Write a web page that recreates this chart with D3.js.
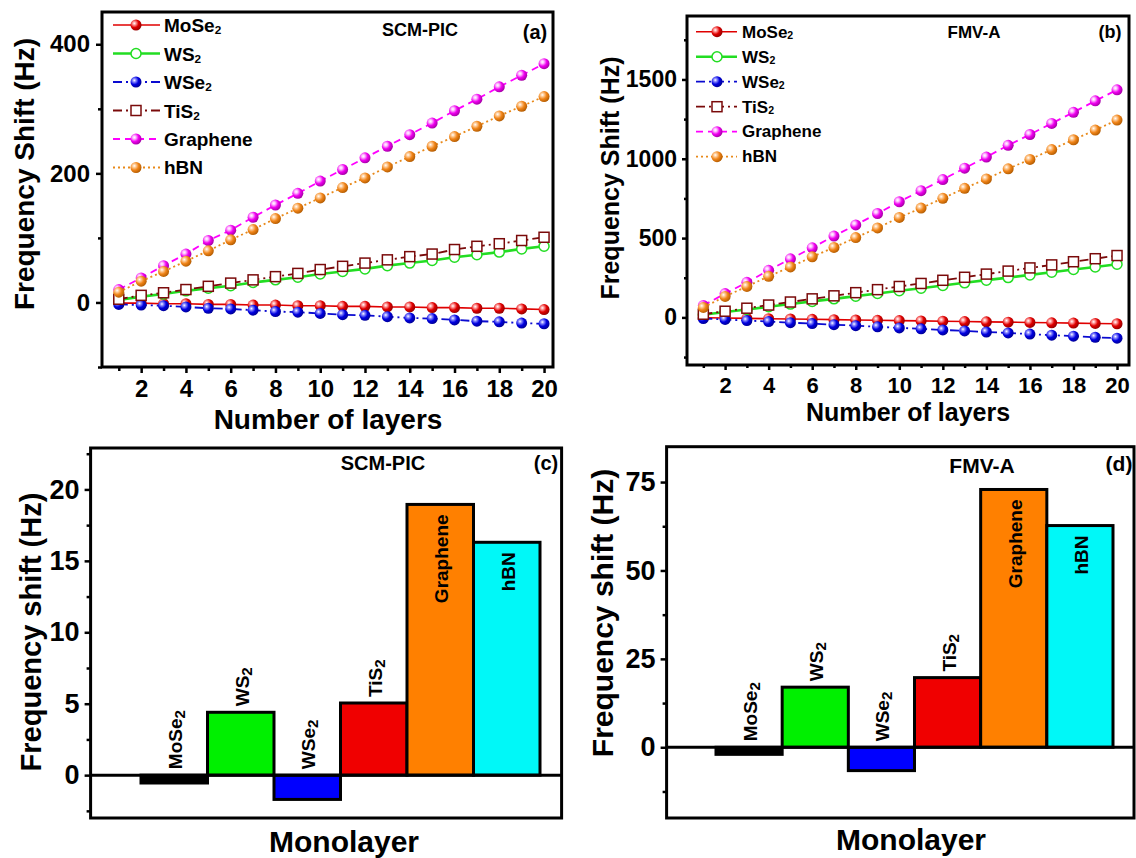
<!DOCTYPE html>
<html><head><meta charset="utf-8">
<script src="https://cdn.jsdelivr.net/npm/d3@7"></script>
<style>
body{margin:0;background:#fff;}
svg text{font-family:"Liberation Sans", Arial, sans-serif;font-weight:bold;fill:#000;}
</style></head><body>
<svg id="chart" width="1136" height="858"></svg>
<script>
// ---------------- DATA ----------------
const layers = [1,2,3,4,5,6,7,8,9,10,11,12,13,14,15,16,17,18,19,20];
const materials = ["MoSe2","WS2","WSe2","TiS2","Graphene","hBN"];

// (a) SCM-PIC, frequency shift (Hz) vs number of layers
const scmMoSe2    = [-1,-1,-2,-2,-3,-3,-4,-4,-5,-5,-6,-6,-7,-7,-8,-8,-9,-9,-10,-11];
const scmWS2      = [4,9,13,18,22,26,31,35,39,44,48,52,57,61,65,70,74,78,83,87];
const scmWSe2     = [-3,-4,-5,-7,-9,-10,-12,-14,-15,-17,-19,-20,-22,-24,-25,-27,-29,-30,-32,-33];
const scmTiS2     = [5,11,15,20,25,30,35,40,45,51,56,61,66,71,75,82,87,91,96,101];
const scmGraphene = [20,38,57,75,96,112,132,151,169,188,206,224,242,260,278,297,315,334,352,370];
const scmhBN      = [16,33,48,64,80,97,113,130,146,162,178,193,210,226,242,257,273,289,304,319];

// (b) FMV-A
const fmvMoSe2    = [-2,-4,-6,-8,-10,-12,-14,-16,-18,-20,-22,-24,-26,-28,-30,-32,-34,-36,-38,-40];
const fmvWS2      = [17,34,50,67,84,101,117,134,151,168,184,201,218,235,251,268,285,302,318,335];
const fmvWSe2     = [-7,-13,-20,-26,-33,-39,-46,-52,-59,-66,-72,-79,-85,-92,-98,-105,-112,-118,-125,-131];
const fmvTiS2     = [20,39,58,78,97,117,136,156,175,195,214,234,253,273,292,312,331,351,370,390];
const fmvGraphene = [75,150,221,297,369,439,513,583,655,729,799,869,941,1011,1085,1153,1223,1293,1365,1435];
const fmvhBN      = [63,132,195,259,318,382,441,503,564,630,689,751,814,873,937,996,1058,1120,1181,1244];

// (c),(d) monolayer frequency shift (Hz)
const scmMonolayer = [-0.55, 4.4, -1.7, 5.05, 18.95, 16.3];
const fmvMonolayer = [-2.0, 17.0, -6.6, 19.7, 72.9, 62.7];

// tick values
const layerTicks = [2,4,6,8,10,12,14,16,18,20];
const layerMinor = [1,3,5,7,9,11,13,15,17,19];
const aYTicks = [0,200,400];         const aYMinor = [-100,100,300];
const bYTicks = [0,500,1000,1500];   const bYMinor = [-250,250,750,1250,1750];
const cYTicks = [0,5,10,15,20];      const cYMinor = [-2.5,2.5,7.5,12.5,17.5,22.5];
const dYTicks = [0,25,50,75];        const dYMinor = [-12.5,12.5,37.5,62.5];

// ---------------- STYLES ----------------
const lineStyle = {
  MoSe2:    {color:"#e00000", dash:null,        marker:"ball",   width:1.6, base:"#e00000", light:"#ffa0a0", dark:"#900000"},
  WS2:      {color:"#22dd22", dash:null,        marker:"open",   width:2.6},
  WSe2:     {color:"#0a0ad0", dash:"9,4,2,4",   marker:"ball",   width:1.8, base:"#0000e0", light:"#9090ff", dark:"#000090"},
  TiS2:     {color:"#7a0a0a", dash:"9,4,2,4",   marker:"square", width:1.8},
  Graphene: {color:"#ff00ff", dash:"7,5",       marker:"ball",   width:1.8, base:"#f000f0", light:"#ffc0ff", dark:"#a000a0"},
  hBN:      {color:"#e8891a", dash:"2,3",       marker:"ball",   width:1.8, base:"#f08418", light:"#ffd0a0", dark:"#b05a00"}
};
const barColor = {MoSe2:"#000000", WS2:"#00f000", WSe2:"#0000ff", TiS2:"#f00000", Graphene:"#ff8000", hBN:"#00f8f8"};

const svg = d3.select("#chart");
const defs = svg.append("defs");
Object.entries(lineStyle).forEach(([k,s])=>{
  if(s.marker!=="ball") return;
  const gr = defs.append("radialGradient").attr("id","ball-"+k)
    .attr("cx","35%").attr("cy","35%").attr("r","70%");
  gr.append("stop").attr("offset","0%").attr("stop-color","#ffffff");
  gr.append("stop").attr("offset","20%").attr("stop-color",s.light);
  gr.append("stop").attr("offset","55%").attr("stop-color",s.base);
  gr.append("stop").attr("offset","100%").attr("stop-color",s.dark);
});

function labelWithSub(sel, name, subSize, subDy){
  const m = name.match(/^(.*?)(\d)$/);
  if(m){
    sel.append("tspan").text(m[1]);
    sel.append("tspan").text(m[2]).attr("font-size",subSize).attr("dy",subDy);
  } else sel.text(name);
}

function drawMarker(g, type, key, cx, cy, r){
  const s = lineStyle[key];
  if(type==="ball"){
    g.append("circle").attr("cx",cx).attr("cy",cy).attr("r",r).attr("fill","url(#ball-"+key+")");
  } else if(type==="open"){
    g.append("circle").attr("cx",cx).attr("cy",cy).attr("r",r-0.5).attr("fill","#fff").attr("stroke",s.color).attr("stroke-width",1.5);
  } else {
    g.append("rect").attr("x",cx-r+0.5).attr("y",cy-r+0.5).attr("width",2*r-1).attr("height",2*r-1)
      .attr("fill","#fff").attr("stroke",s.color).attr("stroke-width",1.5);
  }
}

function styleAxis(ax, fontSize){
  ax.attr("font-size",null).attr("font-family",null);
  ax.select(".domain").remove();
  ax.selectAll(".tick line").attr("stroke","#000").attr("stroke-width",2.5);
  ax.selectAll(".tick text").attr("font-size",fontSize).attr("fill","#000");
}

function rotatedTitle(text, cx, cy, size){
  svg.append("text").attr("transform",`translate(${cx},${cy}) rotate(-90)`)
    .attr("text-anchor","middle").attr("dominant-baseline","central")
    .attr("font-size",size).text(text);
}

// ---------------- LINE PANELS ----------------
function linePanel(cfg){
  const g = svg.append("g");
  const x = d3.scaleLinear().domain(cfg.xDomain).range([cfg.l, cfg.r]);
  const y = d3.scaleLinear().domain(cfg.yDomain).range([cfg.b, cfg.t]);

  const ya = g.append("g").attr("transform",`translate(${cfg.l},0)`)
    .call(d3.axisLeft(y).tickValues(cfg.yTicks).tickSize(cfg.tick).tickPadding(cfg.yPad).tickFormat(d3.format("d")));
  styleAxis(ya, cfg.tickFont);
  const ym = g.append("g").attr("transform",`translate(${cfg.l},0)`)
    .call(d3.axisLeft(y).tickValues(cfg.yMinor).tickSize(cfg.tick-2).tickFormat(""));
  styleAxis(ym, cfg.tickFont);
  const xa = g.append("g").attr("transform",`translate(0,${cfg.b})`)
    .call(d3.axisBottom(x).tickValues(layerTicks).tickSize(cfg.tick).tickPadding(cfg.xPad).tickFormat(d3.format("d")));
  styleAxis(xa, cfg.xTickFont);
  const xm = g.append("g").attr("transform",`translate(0,${cfg.b})`)
    .call(d3.axisBottom(x).tickValues(layerMinor).tickSize(cfg.tick-2).tickFormat(""));
  styleAxis(xm, cfg.xTickFont);

  const line = d3.line().x((d,i)=>x(layers[i])).y(d=>y(d));
  materials.forEach((m,i)=>{
    const s = lineStyle[m];
    const vals = cfg.series[i];
    g.append("path").attr("d",line(vals)).attr("fill","none")
      .attr("stroke",s.color).attr("stroke-width",s.width)
      .attr("stroke-dasharray",s.dash);
    const mg = g.append("g");
    vals.forEach((v,j)=>drawMarker(mg, s.marker, m, x(layers[j]), y(v), cfg.mr));
  });

  g.append("rect").attr("x",cfg.l).attr("y",cfg.t).attr("width",cfg.r-cfg.l).attr("height",cfg.b-cfg.t)
    .attr("fill","none").attr("stroke","#000").attr("stroke-width",3);

  // legend
  materials.forEach((m,i)=>{
    const s = lineStyle[m];
    const ly = cfg.leg.y + i*cfg.leg.dy;
    g.append("line").attr("x1",cfg.leg.x1).attr("x2",cfg.leg.x2).attr("y1",ly).attr("y2",ly)
      .attr("stroke",s.color).attr("stroke-width",s.width).attr("stroke-dasharray",s.dash);
    drawMarker(g, s.marker, m, cfg.leg.xm, ly, cfg.mr);
    const t = g.append("text").attr("x",cfg.leg.xt).attr("y",ly).attr("dominant-baseline","central")
      .attr("font-size",cfg.leg.font);
    labelWithSub(t, m, "0.62em", "0.35em");
  });

  svg.append("text").attr("x",cfg.note[0]).attr("y",cfg.note[1]).attr("text-anchor","middle")
    .attr("dominant-baseline","central").attr("font-size",cfg.note[2]).text(cfg.noteText);
  svg.append("text").attr("x",cfg.tag[0]).attr("y",cfg.tag[1]).attr("text-anchor","middle")
    .attr("dominant-baseline","central").attr("font-size",cfg.tag[2]).text(cfg.tagText);
  rotatedTitle("Frequency Shift (Hz)", cfg.yTitle[0], cfg.yTitle[1], cfg.yTitle[2]);
  svg.append("text").attr("x",cfg.xTitle[0]).attr("y",cfg.xTitle[1]).attr("text-anchor","middle")
    .attr("font-size",cfg.xTitle[2]).text("Number of layers");
}

linePanel({
  l:102, r:553, t:12, b:367, xDomain:[0.25,20.4], yDomain:[-100,450],
  yTicks:aYTicks, yMinor:aYMinor, tick:6, yPad:6, xPad:7, tickFont:24, xTickFont:24, mr:5.5,
  series:[scmMoSe2, scmWS2, scmWSe2, scmTiS2, scmGraphene, scmhBN],
  leg:{x1:113, x2:160, xm:136, xt:164, y:25, dy:28.5, font:19},
  note:[420,30,18], noteText:"SCM-PIC", tag:[535,32,20], tagText:"(a)",
  yTitle:[24,174,28], xTitle:[328,429,28]
});
linePanel({
  l:687, r:1129, t:16, b:365, xDomain:[0.25,20.55], yDomain:[-300,1900],
  yTicks:bYTicks, yMinor:bYMinor, tick:5, yPad:5, xPad:7, tickFont:23, xTickFont:22, mr:5.5,
  series:[fmvMoSe2, fmvWS2, fmvWSe2, fmvTiS2, fmvGraphene, fmvhBN],
  leg:{x1:696, x2:737, xm:717, xt:742, y:31.7, dy:25, font:17},
  note:[974,32,17], noteText:"FMV-A", tag:[1110,32,18], tagText:"(b)",
  yTitle:[610,178,25], xTitle:[908,421,25]
});

// ---------------- BAR PANELS ----------------
function barPanel(cfg){
  const g = svg.append("g");
  const x = d3.scaleBand().domain(materials).range(cfg.band).padding(0);
  const y = d3.scaleLinear().domain(cfg.yDomain).range([cfg.b, cfg.t]);

  const ya = g.append("g").attr("transform",`translate(${cfg.l},0)`)
    .call(d3.axisLeft(y).tickValues(cfg.yTicks).tickSize(6).tickPadding(5).tickFormat(d3.format("d")));
  styleAxis(ya, cfg.tickFont);
  const ym = g.append("g").attr("transform",`translate(${cfg.l},0)`)
    .call(d3.axisLeft(y).tickValues(cfg.yMinor).tickSize(4).tickFormat(""));
  styleAxis(ym, cfg.tickFont);

  const maxV = d3.max(cfg.values);
  materials.forEach((m,i)=>{
    const v = cfg.values[i];
    g.append("rect").attr("x",x(m)).attr("width",x.bandwidth())
      .attr("y",y(Math.max(v,0))).attr("height",Math.abs(y(v)-y(0)))
      .attr("fill",barColor[m]).attr("stroke","#000").attr("stroke-width",3);
  });
  g.append("line").attr("x1",cfg.l).attr("x2",cfg.r).attr("y1",y(0)).attr("y2",y(0))
    .attr("stroke","#000").attr("stroke-width",3);

  materials.forEach((m,i)=>{
    const v = cfg.values[i];
    const cx = x(m) + x.bandwidth()/2 + 8;
    const inside = v > 0.5*maxV;
    let yy, anchor;
    if(inside){ yy = y(v) + 10; anchor = "end"; }
    else { yy = y(Math.max(v,0)) - 6; anchor = "start"; }
    const t = g.append("text").attr("transform",`translate(${cx},${yy}) rotate(-90)`)
      .attr("text-anchor",anchor).attr("font-size",cfg.labFont);
    labelWithSub(t, m, "0.8em", "0.2em");
  });

  g.append("rect").attr("x",cfg.l).attr("y",cfg.t).attr("width",cfg.r-cfg.l).attr("height",cfg.b-cfg.t)
    .attr("fill","none").attr("stroke","#000").attr("stroke-width",3);

  svg.append("text").attr("x",cfg.note[0]).attr("y",cfg.note[1]).attr("text-anchor","middle")
    .attr("dominant-baseline","central").attr("font-size",cfg.note[2]).text(cfg.noteText);
  svg.append("text").attr("x",cfg.tag[0]).attr("y",cfg.tag[1]).attr("text-anchor","middle")
    .attr("dominant-baseline","central").attr("font-size",cfg.tag[2]).text(cfg.tagText);
  rotatedTitle("Frequency shift (Hz)", cfg.yTitle[0], cfg.yTitle[1], cfg.yTitle[2]);
  svg.append("text").attr("x",cfg.xTitle[0]).attr("y",cfg.xTitle[1]).attr("text-anchor","middle")
    .attr("font-size",cfg.xTitle[2]).text("Monolayer");
}

barPanel({
  l:90.6, r:561.6, t:448, b:818, band:[141,540], yDomain:[-3,22.9],
  yTicks:cYTicks, yMinor:cYMinor, tickFont:27, labFont:19,
  values:scmMonolayer,
  note:[383,463,20], noteText:"SCM-PIC", tag:[546,463,20], tagText:"(c)",
  yTitle:[31,632,29], xTitle:[344,852,30]
});
barPanel({
  l:666.6, r:1134, t:446.7, b:818, band:[716,1113], yDomain:[-20,85],
  yTicks:dYTicks, yMinor:dYMinor, tickFont:27, labFont:19,
  values:fmvMonolayer,
  note:[982,465,21], noteText:"FMV-A", tag:[1119,463,21], tagText:"(d)",
  yTitle:[602,613,30], xTitle:[911,850,30]
});
</script>
</body></html>
